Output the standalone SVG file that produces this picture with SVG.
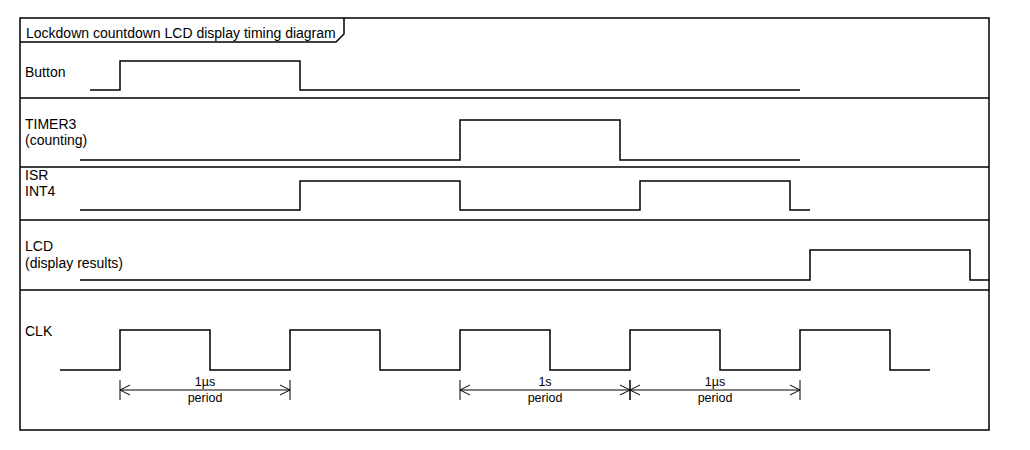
<svg xmlns="http://www.w3.org/2000/svg" width="1030" height="450" viewBox="0 0 1030 450">
<style>
.ln{fill:none;stroke:#000;stroke-width:1.5}
.sig{fill:none;stroke:#000;stroke-width:1.5}
.dim{fill:none;stroke:#000;stroke-width:1}
text{font-family:"Liberation Sans",Arial,sans-serif;font-size:14px;fill:#000}
.c{text-anchor:middle;font-size:12.5px}
</style>
<rect width="1030" height="450" fill="#fff"/>
<g id="frame">
<rect class="ln" x="20" y="18" width="969" height="412"/>
<path class="ln" d="M20,42 H336 L344,34 V18"/>
<text x="26" y="38">Lockdown countdown LCD display timing diagram</text>
<line class="ln" x1="20" y1="98" x2="989" y2="98"/>
<line class="ln" x1="20" y1="167" x2="989" y2="167"/>
<line class="ln" x1="20" y1="220" x2="989" y2="220"/>
<line class="ln" x1="20" y1="290" x2="989" y2="290"/>
</g>
<g id="button">
<text x="25" y="77">Button</text>
<path class="sig" d="M90,90 H120 V61 H300 V90 H800"/>
</g>
<g id="timer3">
<text x="25" y="129">TIMER3</text>
<text x="25" y="145">(counting)</text>
<path class="sig" d="M80,160 H460 V120 H620 V160 H800"/>
</g>
<g id="isr">
<text x="25" y="180">ISR</text>
<text x="25" y="196">INT4</text>
<path class="sig" d="M80,210 H300 V181 H460 V210 H640 V181 H790 V210 H810"/>
</g>
<g id="lcd">
<text x="25" y="251">LCD</text>
<text x="25" y="268">(display results)</text>
<path class="sig" d="M80,280 H810 V250 H970 V280 H989"/>
</g>
<g id="clk">
<text x="25" y="336">CLK</text>
<path class="sig" d="M60,370 H120 V330 H210 V370 H290 V330 H380 V370 H460 V330 H550 V370 H630 V330 H720 V370 H800 V330 H890 V370 H930"/>
</g>
<g id="connectors">
<g class="dim">
<line x1="120" y1="380" x2="120" y2="400"/>
<line x1="290" y1="380" x2="290" y2="400"/>
<line x1="460" y1="380" x2="460" y2="400"/>
<line x1="630" y1="380" x2="630" y2="400" stroke-width="1.5"/>
<line x1="800" y1="380" x2="800" y2="400"/>
<path d="M120,390 H290 M130,385 L120,390 L130,395 M280,385 L290,390 L280,395"/>
<path d="M460,390 H630 M470,385 L460,390 L470,395 M620,385 L630,390 L620,395"/>
<path d="M630,390 H800 M640,385 L630,390 L640,395 M790,385 L800,390 L790,395"/>
</g>
<text class="c" x="205" y="386">1µs</text>
<text class="c" x="205" y="402">period</text>
<text class="c" x="545" y="386">1s</text>
<text class="c" x="545" y="402">period</text>
<text class="c" x="715" y="386">1µs</text>
<text class="c" x="715" y="402">period</text>
</g>
</svg>
